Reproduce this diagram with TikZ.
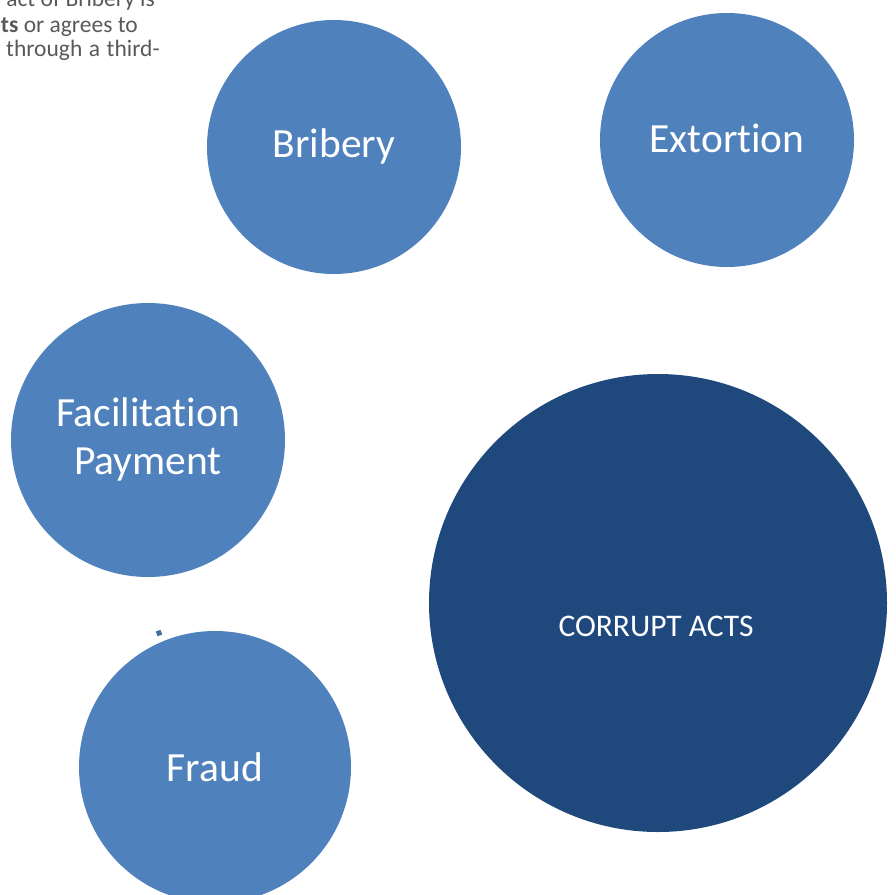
\documentclass[tikz,border=0pt]{standalone}
\usepackage{fontspec}
\setmainfont{Carlito}[RawFeature=-liga]
\definecolor{lightblue}{HTML}{4F81BD}
\definecolor{darkblue}{HTML}{1F497D}
\definecolor{bodygrey}{HTML}{595959}
\begin{document}
\begin{tikzpicture}[x=1pt,y=-1pt,
  bubble/.style={circle,fill=lightblue,inner sep=0pt},
  bigbubble/.style={circle,fill=darkblue,inner sep=0pt},
  label/.style={text=white,inner sep=0pt,align=center,font=\fontsize{41.5}{48}\selectfont},
  biglabel/.style={text=white,inner sep=0pt,font=\fontsize{31.5}{38}\selectfont},
  bodytext/.style={anchor=base east,inner sep=0pt,text=bodygrey,font=\fontsize{23.5}{24.5}\selectfont}]
\useasboundingbox (0,0) rectangle (896,894);
\clip (0,0) rectangle (896,894);
% introductory paragraph (justified), running in from the left
\node[bodytext] (l1) at (155,6) {The act of Bribery is};
\node[bodytext] (l2) at (138,32) {\textbf{accepts} or agrees to};
\node[bodytext] (l3) at (160,56) {\spaceskip=0.28em or through a third-};
% bubbles
\node[bubble,minimum size=254pt] (bribery) at (334,147) {};
\node[bubble,minimum size=254pt] (extortion) at (727,140) {};
\node[bubble,minimum size=274pt] (facil) at (148,440) {};
\node[bubble,minimum size=272pt] (fraud) at (215,767) {};
\node[bigbubble,minimum size=458pt] (corrupt) at (658,603) {};
% bubble labels
\node[label] (tbribery) at (334,146) {Bribery};
\node[label] (textortion) at (727,138) {Extortion};
\node[label] (tfacil) at (148,439) {Facilitation\\Payment};
\node[label] (tfraud) at (215,767) {Fraud};
\node[biglabel] (tcorrupt) at (656,626) {CORRUPT ACTS};
% small marker above Fraud
\fill[lightblue!85!black,rotate around={20:(159,633)}] (156.5,630.5) rectangle (161.5,635.5);
\end{tikzpicture}
\end{document}
